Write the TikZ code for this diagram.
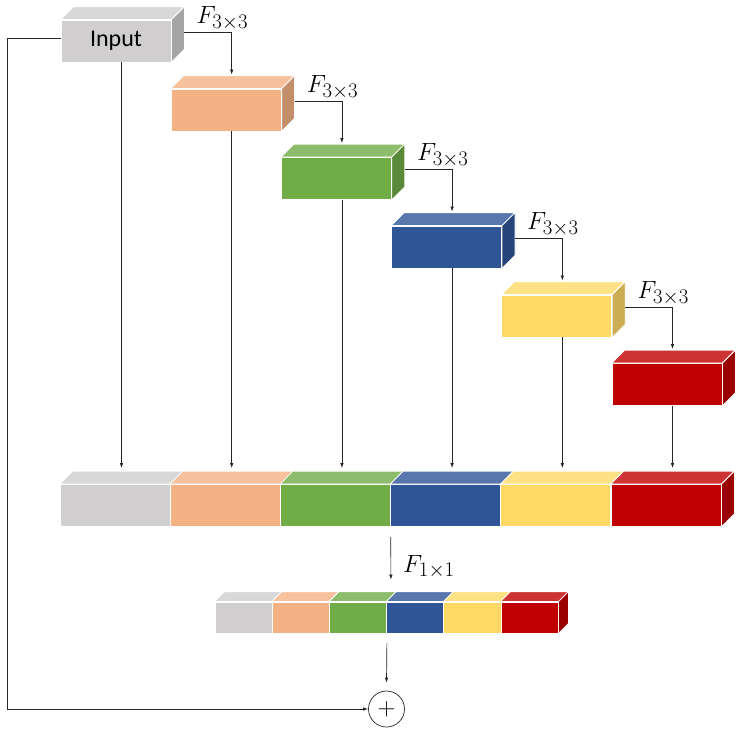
\documentclass[tikz,border=0pt]{standalone}
\usepackage{amsmath,amssymb}
\usepackage{xcolor}
\usepackage{fontspec}
\newfontfamily\carlito{Carlito}
\usepackage{tikz}
\usetikzlibrary{shapes,arrows.meta,positioning}
\DeclareMathSizes{25}{25}{20}{15}

\definecolor{cgray}{HTML}{D0CECE}
\definecolor{corange}{HTML}{F4B183}
\definecolor{cgreen}{HTML}{70AD47}
\definecolor{cblue}{HTML}{2F5597}
\definecolor{cyellow}{HTML}{FFD966}
\definecolor{cred}{HTML}{C00000}

\begin{document}
\begin{tikzpicture}[x=1pt, y=-1pt,
    block/.style={rectangle, fill=#1, draw=white, line width=0.8pt, minimum width=110pt, minimum height=42pt, inner sep=0pt},
    slice/.style={block=#1, minimum width=57.2pt, minimum height=31pt},
    face/.style={draw=white, line width=0.8pt},
    lbl/.style={font=\fontsize{25}{30}\selectfont, inner sep=0pt},
    arrow/.style={-{Latex[length=5pt,width=3.5pt]}, draw=black!85, line width=0.7pt}
]
    \useasboundingbox (0,0) rectangle (740,729);

    % Input and the 3x3 stages
    \node[block=cgray, font=\carlito\fontsize{24}{28}\selectfont] (in) at (116,41) {Input};
    \node[block=corange] (f1) at (226.2,110) {};
    \node[block=cgreen] (f2) at (336.4,178.5) {};
    \node[block=cblue] (f3) at (446.6,247) {};
    \node[block=cyellow] (f4) at (556.8,316) {};
    \node[block=cred] (f5) at (667,384.5) {};

    % Concatenated features
    \node[block=cgray] (c1) at (115,505.5) {};
    \node[block=corange] (c2) at (225.2,505.5) {};
    \node[block=cgreen] (c3) at (335.4,505.5) {};
    \node[block=cblue] (c4) at (445.6,505.5) {};
    \node[block=cyellow] (c5) at (555.8,505.5) {};
    \node[block=cred] (c6) at (666,505.5) {};

    % Fused output
    \node[slice=cgray] (s1) at (243.5,617.5) {};
    \node[slice=corange] (s2) at (300.7,617.5) {};
    \node[slice=cgreen] (s3) at (357.9,617.5) {};
    \node[slice=cblue] (s4) at (415.1,617.5) {};
    \node[slice=cyellow] (s5) at (472.3,617.5) {};
    \node[slice=cred] (s6) at (529.5,617.5) {};

    % Top and side faces
    \foreach \n/\c/\d in {in/cgray/13, f1/corange/13, f2/cgreen/13, f3/cblue/13, f4/cyellow/13, f5/cred/13,
        c1/cgray/13, c2/corange/13, c3/cgreen/13, c4/cblue/13, c5/cyellow/13, c6/cred/13,
        s1/cgray/10, s2/corange/10, s3/cgreen/10, s4/cblue/10, s5/cyellow/10, s6/cred/10}
        \fill[face, fill=\c!80!white] (\n.north west) -- ++(\d,-\d) -- ([xshift=\d pt,yshift=\d pt]\n.north east) -- (\n.north east) -- cycle;
    \foreach \n/\c/\d in {in/cgray/13, f1/corange/13, f2/cgreen/13, f3/cblue/13, f4/cyellow/13, f5/cred/13,
        c6/cred/13, s6/cred/10}
        \fill[face, fill=\c!80!black] (\n.north east) -- ++(\d,-\d) -- ([xshift=\d pt,yshift=\d pt]\n.south east) -- (\n.south east) -- cycle;

    % Drop points on the concatenated bar
    \foreach \i in {1,...,6}
        \coordinate (t\i) at ([xshift=6.5pt]c\i.north);

    % Arrows between stages
    \foreach \a/\b/\i in {in/f1/2, f1/f2/3, f2/f3/4, f3/f4/5, f4/f5/6} {
        \draw[arrow, shorten >=14pt] ([xshift=13pt,yshift=9pt]\a.east) -| (\b.north -| t\i);
        \node[lbl, anchor=south west] (l\i) at ([xshift=25pt,yshift=11pt]\a.east) {$F_{3\times3}$};
    }
    \foreach \a/\i in {in/1, f1/2, f2/3, f3/4, f4/5, f5/6}
        \draw[arrow, shorten >=16pt] (\a.south -| t\i) -- (t\i);

    % Fusion and residual sum
    \node[circle, draw=black!85, line width=0.7pt, minimum size=36pt, inner sep=0pt, font=\fontsize{25}{30}\selectfont] (plus) at (386.5,709) {$+$};
    \draw[arrow] ([yshift=-10pt]c3.south east) -- ([xshift=4pt,yshift=22pt]s3.north east)
        node[lbl, pos=0.7, right=12pt] (l7) {$F_{1\times1}$};
    \draw[arrow] ([yshift=-10pt]s3.south east) -- ([yshift=8pt]plus.north);
    \draw[arrow] ([yshift=3pt]in.west) -- ++(-53,0) |- (plus.west);
\end{tikzpicture}
\end{document}
